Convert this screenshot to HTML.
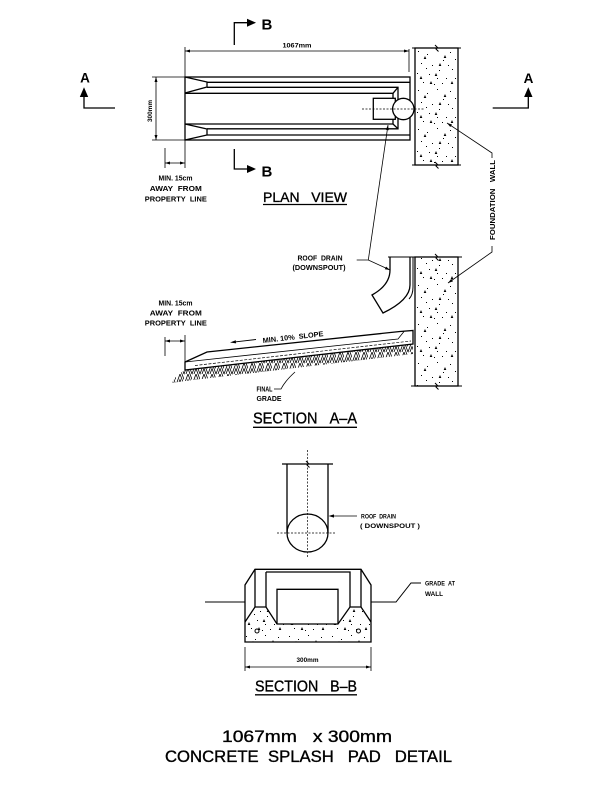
<!DOCTYPE html>
<html><head><meta charset="utf-8"><style>
html,body{margin:0;padding:0;background:#fff;}
svg{display:block;}
text{font-family:"Liberation Sans",sans-serif;fill:#000;}
.s{font-weight:bold;font-size:7.2px;}
.t{font-weight:normal;stroke:#000;stroke-width:0.35px;}
</style></head><body>
<svg width="612" height="792" viewBox="0 0 612 792" xmlns="http://www.w3.org/2000/svg">
<defs>
<pattern id="st" patternUnits="userSpaceOnUse" width="43" height="39" x="415" y="48">
<path fill="#000" d="M3,3h1v1h-1z M12,6h1v1h-1z M22,2h1v1h-1z M35,4h1v1h-1z M40,11h1v1h-1z M6,15h1v1h-1z M17,17h1v1h-1z M28,12h1v1h-1z M37,21h1v1h-1z M2,25h1v1h-1z M14,26h1v1h-1z M24,22h1v1h-1z M31,30h1v1h-1z M40,30h1v1h-1z M8,34h1v1h-1z M19,36h1v1h-1z M27,35h1v1h-1z M33,17h1v1h-1z M11,20h1v1h-1z M22,30h1v1h-1z"/>
<path fill="#000" d="M10,8l1.3,3h-2.6z M30,7l1.3,3h-2.6z M21,25l1.3,3h-2.6z M6,28l1.3,3h-2.6z M37,33l1.3,3h-2.6z M25,15l1.3,3h-2.6z M16,33l1.3,3h-2.6z"/>
</pattern>
<pattern id="hb" patternUnits="userSpaceOnUse" width="8" height="11">
<path d="M0,11 L4,0 L8,11 M2,11 L4,5.5 L6,11 M-2,5.5 L0,0 M6,0 L8,5.5" stroke="#000" stroke-width="0.8" fill="none"/>
</pattern>
</defs>

<!-- ================= PLAN VIEW ================= -->
<g stroke="#000" fill="none" stroke-width="1.3">
  <rect x="185" y="77" width="225" height="63"/>
  <path d="M185,77 L207,82 L207,87 L185,93"/>
  <path d="M207,82.3 L410,82.3"/>
  <path d="M207,87.3 L398,87.3 L398,128.8 L207,128.8"/>
  <path d="M185,93.3 L393,93.3 L393,124 L185,124"/>
  <path d="M393,93.3 L398,87.3 M393,124 L398,128.8"/>
  <path d="M185,124 L207,129 L207,135 L185,140"/>
  <path d="M207,135 L410,135"/>
  <rect x="373.3" y="98.3" width="22" height="21" fill="#fff"/>
  <circle cx="403.3" cy="109" r="10.7" fill="#fff"/>
</g>
<path d="M362,109 L425,109" stroke="#000" stroke-width="0.7" stroke-dasharray="2,1.5"/>

<rect x="415" y="48" width="43" height="117" fill="url(#st)" stroke="#000" stroke-width="1.3"/>
<g stroke="#000" stroke-width="1" fill="none">
  <path d="M412,48 L461,48 M412,165 L461,165"/>
  <path d="M435,45 L437.5,47.5 L436,49 L438.5,51.5"/>
  <path d="M435,162 L437.5,164.5 L436,166 L438.5,168.5"/>
</g>

<g stroke="#000" stroke-width="0.8" fill="none">
  <path d="M185,47 L185,77 M409,49 L409,72 M185,51 L409,51"/>
  <path d="M152,77 L185,77 M152,140 L185,140 M156,77 L156,140"/>
  <path d="M165,148 L165,168 M185,140 L185,168 M165,163 L185,163"/>
</g>
<g fill="#000">
  <path d="M185,51 L190,49.5 L190,52.5Z M409,51 L404,49.5 L404,52.5Z"/>
  <path d="M156,77 L154.5,82 L157.5,82Z M156,140 L154.5,135 L157.5,135Z"/>
  <path d="M165,163 L170,161.5 L170,164.5Z M185,163 L180,161.5 L180,164.5Z"/>
</g>
<text class="s" x="297" y="47.5" text-anchor="middle" style="font-size:6.5px" textLength="29" lengthAdjust="spacingAndGlyphs">1067mm</text>
<text class="s" transform="translate(151.8,111) rotate(-90)" text-anchor="middle" style="font-size:6.5px" textLength="22" lengthAdjust="spacingAndGlyphs">300mm</text>
<text class="s" x="175.5" y="180.5" text-anchor="middle" textLength="34" lengthAdjust="spacingAndGlyphs">MIN. 15cm</text>
<text class="s" x="175.8" y="191" text-anchor="middle" textLength="52" lengthAdjust="spacingAndGlyphs">AWAY&#160;&#160;FROM</text>
<text class="s" x="175.8" y="201.5" text-anchor="middle" textLength="62" lengthAdjust="spacingAndGlyphs">PROPERTY&#160;&#160;LINE</text>

<g stroke="#000" stroke-width="1.3" fill="none">
  <path d="M234.3,45 L234.3,22.7 L248,22.7"/>
  <path d="M234.3,149 L234.3,169 L248,169"/>
</g>
<path d="M256,22.7 L247,18.7 L247,26.7Z M256,169 L247,165 L247,173Z" fill="#000"/>
<text x="261.5" y="29.5" style="font-size:15px;font-weight:bold">B</text>
<text x="261.5" y="176.7" style="font-size:15px;font-weight:bold">B</text>

<g stroke="#000" stroke-width="1.3" fill="none">
  <path d="M84,96 L84,108 L115,108"/>
  <path d="M528.3,96 L528.3,108 L492.7,108"/>
</g>
<path d="M84,87.3 L79.8,97 L88.2,97Z M528.3,87.3 L524.1,97 L532.5,97Z" fill="#000"/>
<text x="85" y="82.7" text-anchor="middle" style="font-size:13.5px;font-weight:bold">A</text>
<text x="528.5" y="83" text-anchor="middle" style="font-size:13.5px;font-weight:bold">A</text>

<text class="t" x="263" y="202" style="font-size:14px" textLength="84" lengthAdjust="spacingAndGlyphs">PLAN&#160;&#160;&#160;VIEW</text>
<path d="M263,204.5 L347,204.5" stroke="#000" stroke-width="1.3"/>

<g stroke="#000" stroke-width="0.8" fill="none">
  <path d="M388,125 L368.3,260 M356.7,260 L368.3,260 L390,270"/>
  <path d="M447,123 L492,153 L492,158"/>
  <path d="M492,246 L492,252 L448,283"/>
</g>
<g fill="#000">
  <path d="M388,125 L388.75,130.2 L385.8,129.7Z"/>
  <path d="M390,270 L384.8,269.3 L386.1,266.6Z"/>
  <path d="M447,123 L452,124.5 L450.3,127Z"/>
  <path d="M448,283 L451.2,278.9 L453,281.4Z"/>
</g>
<text class="s" transform="translate(495,200) rotate(-90)" text-anchor="middle" textLength="80" lengthAdjust="spacingAndGlyphs">FOUNDATION&#160;&#160;&#160;WALL</text>

<!-- ================= SECTION A-A ================= -->
<rect x="415" y="257" width="43" height="129" fill="url(#st)" stroke="#000" stroke-width="1.3"/>
<g stroke="#000" stroke-width="1" fill="none">
  <path d="M388,257 L462,257 M411,386 L462,386"/>
  <path d="M435,254 L437.5,256.5 L436,258 L438.5,260.5"/>
  <path d="M435,383 L437.5,385.5 L436,387 L438.5,389.5"/>
</g>
<g stroke="#000" stroke-width="1.3" fill="none">
  <path d="M390,257 L390,270 Q390,285 372,295 L383,313 Q410,300 410,285 L410,257"/>
  <path d="M413,257 L413,287 Q413,295 409,299" stroke-width="1"/>
</g>
<text class="s" x="320" y="260.7" text-anchor="middle" textLength="45" lengthAdjust="spacingAndGlyphs">ROOF&#160;&#160;DRAIN</text>
<text class="s" x="319" y="270" text-anchor="middle" textLength="53" lengthAdjust="spacingAndGlyphs">(DOWNSPOUT)</text>

<path d="M185,370 L413,344 L413,354 L185,381 L172,383 L176,376 Z" fill="url(#hb)"/>
<path d="M185,362 L207,352 L400,331.5 L413,330.5 L413,344 L185,370 Z" fill="#fff" stroke="#000" stroke-width="1.3"/>
<path d="M185,362 L398,339 L404,331.5" stroke="#000" stroke-width="0.8" fill="none"/>
<path d="M195,365.5 L411,341" stroke="#000" stroke-width="0.7" stroke-dasharray="3,1.5" fill="none"/>

<path d="M236,341.8 L256,339.5" stroke="#000" stroke-width="0.9"/>
<path d="M230,342.5 L236.1,343.4 L235.8,340.2Z" fill="#000"/>
<text class="s" transform="translate(263,343) rotate(-6.5)" textLength="61" lengthAdjust="spacingAndGlyphs">MIN. 10%&#160;&#160;SLOPE</text>

<g stroke="#000" stroke-width="0.8" fill="none">
  <path d="M165,337 L165,356 M185,335 L185,362 M165,341 L185,341"/>
  <path d="M274,389 L281,389 Q285,381 295,372"/>
</g>
<path d="M165,341 L170,339.5 L170,342.5Z M185,341 L180,339.5 L180,342.5Z" fill="#000"/>
<text class="s" x="175.5" y="305.5" text-anchor="middle" textLength="34" lengthAdjust="spacingAndGlyphs">MIN. 15cm</text>
<text class="s" x="175.8" y="315.5" text-anchor="middle" textLength="52" lengthAdjust="spacingAndGlyphs">AWAY&#160;&#160;FROM</text>
<text class="s" x="175.8" y="325.5" text-anchor="middle" textLength="62" lengthAdjust="spacingAndGlyphs">PROPERTY&#160;&#160;LINE</text>
<text class="s" x="256.5" y="391.5" textLength="16" lengthAdjust="spacingAndGlyphs">FINAL</text>
<text class="s" x="256.5" y="400.8" textLength="25" lengthAdjust="spacingAndGlyphs">GRADE</text>

<text class="t" x="253" y="423.3" style="font-size:16px" textLength="104" lengthAdjust="spacingAndGlyphs">SECTION&#160;&#160;&#160;A–A</text>
<path d="M253,427.3 L357,427.3" stroke="#000" stroke-width="1.3"/>

<!-- ================= SECTION B-B ================= -->
<g stroke="#000" stroke-width="0.7" stroke-dasharray="2,1.5" fill="none">
  <path d="M307.5,450 L307.5,557"/>
  <path d="M277,533 L336,533"/>
</g>
<g stroke="#000" stroke-width="1.3" fill="none">
  <path d="M282,464 L333,464"/>
  <path d="M287,464 L287,533 M328,464 L328,533"/>
  <ellipse cx="307.5" cy="533" rx="20.5" ry="19"/>
</g>
<path d="M306,461 L308.5,463.5 L307,465 L309.5,467.5" stroke="#000" stroke-width="1" fill="none"/>
<path d="M357,516 L333,516" stroke="#000" stroke-width="0.8"/>
<path d="M328.5,516 L334,514.4 L334,517.6Z" fill="#000"/>
<text class="s" x="361" y="518.7" style="font-size:6.6px" textLength="35" lengthAdjust="spacingAndGlyphs">ROOF&#160;&#160;DRAIN</text>
<text class="s" x="360" y="528" style="font-size:6.6px" textLength="60" lengthAdjust="spacingAndGlyphs">( DOWNSPOUT )</text>

<path d="M245,622 L255,607 L266,607 L277,624 L338,624 L350,607 L361,607 L371,622 L371,642 L245,642 Z" fill="url(#st)"/>
<g stroke="#000" stroke-width="1.3" fill="none">
  <path d="M255,569.3 L361,569.3 L371,585 L371,642 L245,642 L245,585 Z"/>
  <path d="M255,569.3 L255,607 M266,572 L266,607 M266,572 L350,572 L350,607 M361,569.3 L361,607"/>
  <path d="M245,622 L255,607 L266,607 L277,624 L338,624 L350,607 L361,607 L371,622"/>
  <path d="M277,624 L277,589.3 L338,589.3 L338,624"/>
</g>
<circle cx="257" cy="631" r="2" fill="none" stroke="#000" stroke-width="1"/>
<circle cx="358.5" cy="631" r="2" fill="none" stroke="#000" stroke-width="1"/>
<g stroke="#000" stroke-width="1" fill="none">
  <path d="M205,602 L245,602 M371,602 L396,602 L411,583 L421,583"/>
</g>
<text class="s" x="425" y="585.5" style="font-size:6.8px" textLength="30" lengthAdjust="spacingAndGlyphs">GRADE&#160;&#160;AT</text>
<text class="s" x="425" y="596" style="font-size:6.8px" textLength="18" lengthAdjust="spacingAndGlyphs">WALL</text>

<g stroke="#000" stroke-width="0.8" fill="none">
  <path d="M245,647 L245,671 M371,647 L371,671 M245,667 L371,667"/>
</g>
<path d="M245,667 L250,665.5 L250,668.5Z M371,667 L366,665.5 L366,668.5Z" fill="#000"/>
<text class="s" x="307.5" y="662" text-anchor="middle" style="font-size:6.6px" textLength="22" lengthAdjust="spacingAndGlyphs">300mm</text>

<text class="t" x="255" y="691.7" style="font-size:16px" textLength="102" lengthAdjust="spacingAndGlyphs">SECTION&#160;&#160;&#160;B–B</text>
<path d="M255,694.8 L357,694.8" stroke="#000" stroke-width="1.3"/>

<!-- ================= TITLE ================= -->
<text class="t" x="222" y="742" style="font-size:17px" textLength="170" lengthAdjust="spacingAndGlyphs">1067mm&#160;&#160;&#160;x 300mm</text>
<text class="t" x="165" y="762" style="font-size:17px" textLength="287" lengthAdjust="spacingAndGlyphs">CONCRETE&#160;&#160;SPLASH&#160;&#160;&#160;PAD&#160;&#160;&#160;DETAIL</text>
</svg>
</body></html>
